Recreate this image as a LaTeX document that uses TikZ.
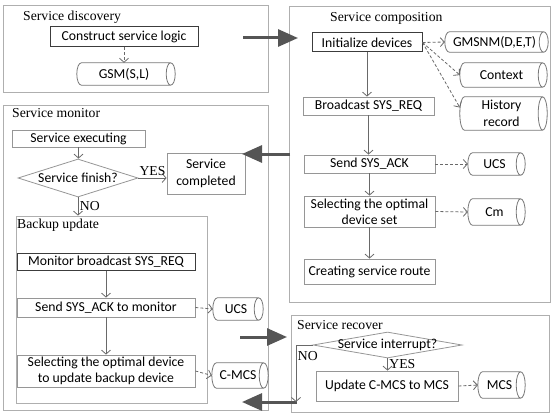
\documentclass[tikz,border=0pt]{standalone}
\usepackage{fontspec}
\setmainfont{Liberation Serif}
\newfontfamily\boxfont{Carlito}
\usetikzlibrary{shapes.geometric,arrows.meta,calc}
\definecolor{framec}{RGB}{175,175,175}
\definecolor{darkc}{RGB}{60,60,60}
\definecolor{lightc}{RGB}{150,150,150}
\definecolor{cylc}{RGB}{120,120,120}
\definecolor{linec}{RGB}{105,105,105}
\definecolor{bigc}{RGB}{85,85,85}
\tikzset{
  frame/.style={draw=framec, line width=0.8pt, inner sep=0pt},
  title/.style={anchor=west, inner sep=0pt, font=\fontsize{13.7pt}{16pt}\selectfont},
  lbl/.style={inner sep=1.5pt, font=\fontsize{13.7pt}{16pt}\selectfont},
  lbox/.style={draw=lightc, line width=0.8pt, inner sep=0pt, align=center,
    font=\boxfont\fontsize{13.7pt}{16.4pt}\selectfont},
  dbox/.style={lbox, draw=darkc, line width=1pt},
  cyl/.style={rectangle, inner sep=0pt, align=center,
    font=\boxfont\fontsize{13.7pt}{16.4pt}\selectfont},
  cylline/.style={draw=cylc, line width=0.8pt},
  dia/.style={diamond, draw=lightc, line width=0.8pt, inner sep=0pt,
    font=\boxfont\fontsize{13.7pt}{16.4pt}\selectfont},
  flow/.style={draw=linec, line width=0.8pt, -{Straight Barb[length=4pt,width=9pt]}},
  dflow/.style={flow, dash pattern=on 3pt off 2pt},
  big/.style={draw=bigc, line width=3pt, -{Triangle[length=20pt,width=17pt]}},
}
\newcommand\drawcyl[1]{%
  \draw[cylline] let \p1=(#1.north west), \p2=(#1.south east), \n1={(\y1-\y2)/2} in
    (\x2-4.5pt,\y1) -- (\x1+4.5pt,\y1)
    arc[start angle=90, end angle=270, x radius=4.5pt, y radius=\n1]
    -- (\x2-4.5pt,\y2)
    (\x2-4.5pt,\y1/2+\y2/2) ellipse[x radius=4.5pt, y radius=\n1];}
\begin{document}
\begin{tikzpicture}[x=1pt,y=-1pt]
\useasboundingbox (0,0) rectangle (553,417);
% frames
\node[frame, minimum width=265, minimum height=87] (disc) at (135.5,48.5) {};
\node[frame, minimum width=261, minimum height=296] (comp) at (419.5,154) {};
\node[frame, minimum width=265, minimum height=305] (mon) at (135.5,257.5) {};
\node[frame, minimum width=191, minimum height=187] (backup) at (111.5,309.5) {};
\node[frame, minimum width=258, minimum height=97] (recover) at (420,363.5) {};
% titles
\node[title] (tdisc) at (23,17) {Service discovery};
\node[title] (tcomp) at (330,18) {Service composition};
\node[title] (tmon) at (12,113) {Service monitor};
\node[title] (tbackup) at (17,225) {Backup update};
\node[title] (trecover) at (297,325) {Service recover};
% discovery
\node[dbox, minimum width=148, minimum height=20] (construct) at (124,37) {Construct service logic};
\node[cyl, minimum width=98, minimum height=22] (gsm) at (126,74) {GSM(S,L)\hspace*{4pt}};
% composition
\node[dbox, minimum width=110, minimum height=19] (init) at (367,42.5) {Initialize devices};
\node[cyl, minimum width=103, minimum height=20] (gmsnm) at (496.5,42) {GMSNM(D,E,T)\hspace*{4pt}};
\node[cyl, minimum width=87, minimum height=24] (context) at (503.5,75) {Context\hspace*{4pt}};
\node[cyl, minimum width=87, minimum height=33] (history) at (503.5,113.5) {History\hspace*{4pt}\\record\hspace*{4pt}};
\node[lbox, minimum width=131, minimum height=18] (bcast) at (368.5,106) {Broadcast SYS\_REQ};
\node[lbox, minimum width=131, minimum height=18] (sack) at (369.5,164) {Send SYS\_ACK};
\node[cyl, minimum width=57, minimum height=22] (ucsa) at (496.5,164) {UCS\hspace*{4pt}};
\node[lbox, minimum width=131, minimum height=31] (select) at (369.5,211.5) {Selecting the optimal\\device set};
\node[cyl, minimum width=57, minimum height=26] (cm) at (496.5,212) {Cm\hspace*{4pt}};
\node[lbox, minimum width=131, minimum height=25] (route) at (369.5,271.5) {Creating service route};
% monitor
\node[lbox, minimum width=133, minimum height=17] (exec) at (78.5,138.5) {Service executing};
\node[dia, minimum width=120, minimum height=38, aspect=3.2] (finish) at (78,178) {\makebox[0pt]{Service finish?}};
\node[lbox, minimum width=78, minimum height=41] (completed) at (206,173.5) {Service\\completed};
\node[dbox, minimum width=178, minimum height=17] (mbcast) at (106,261.5) {Monitor broadcast SYS\_REQ};
\node[lbox, minimum width=178, minimum height=19] (sackb) at (106,307.5) {Send SYS\_ACK to monitor};
\node[cyl, minimum width=50, minimum height=22] (ucsb) at (238,309) {UCS\hspace*{4pt}};
\node[lbox, minimum width=178, minimum height=32] (selectb) at (106,371) {Selecting the optimal device\\to update backup device};
\node[cyl, minimum width=56, minimum height=25] (cmcs) at (240,375.5) {C-MCS\hspace*{4pt}};
% recover
\node[dia, minimum width=149, minimum height=26, aspect=5.7] (interrupt) at (387.5,345) {\makebox[0pt]{Service interrupt?}};
\node[lbox, minimum width=142, minimum height=30] (update) at (387,386) {Update C-MCS to MCS};
\node[cyl, minimum width=47, minimum height=26] (mcs) at (501.5,385) {MCS\hspace*{4pt}};
\coordinate (noend) at (296,402);
% cylinder outlines
\drawcyl{gsm}
\drawcyl{gmsnm}
\drawcyl{context}
\drawcyl{history}
\drawcyl{ucsa}
\drawcyl{cm}
\drawcyl{ucsb}
\drawcyl{cmcs}
\drawcyl{mcs}
% big arrows
\coordinate (a1s) at (243,38); \coordinate (a1e) at (298,38);
\coordinate (a2s) at (290,154); \coordinate (a2e) at (242,154);
\coordinate (a3s) at (240,337); \coordinate (a3e) at (287,337);
\coordinate (a4s) at (297,402); \coordinate (a4e) at (242,402);
\draw[big] (a1s) -- (a1e);
\draw[big] (a2s) -- (a2e);
\draw[big] (a3s) -- (a3e);
\draw[big] (a4s) -- (a4e);
% connectors
\draw[dflow] (construct.south) -- (construct.south |- gsm.north);
\draw[dflow] (init.east) -- (gmsnm.west);
\draw[dflow] (init.east) -- (context.west);
\draw[dflow] (init.east) -- ([yshift=6pt]history.west);
\draw[flow] (init.south) -- (init.south |- bcast.north);
\draw[flow] (bcast.south) -- (bcast.south |- sack.north);
\draw[dflow] (sack.east) -- (ucsa.west);
\draw[flow] (sack.south) -- (select.north);
\draw[dflow] (select.east) -- (cm.west);
\draw[flow] (select.south) -- (route.north);
\draw[flow] (exec.south) -- (exec.south |- finish.north);
\draw[flow] (finish.east) -- node[lbl, above] {YES} (finish.east -| completed.west);
\draw[flow] (finish.south) -- node[lbl, right, pos=0.45] {NO} (finish.south |- backup.north);
\draw[flow] (mbcast.south) -- (sackb.north);
\draw[dflow] (sackb.east) -- (ucsb.west);
\draw[flow] (sackb.south) -- (selectb.north);
\draw[dflow] (selectb.east) -- (cmcs.west);
\draw[flow] (interrupt.south) -- node[lbl, right] {YES} (interrupt.south |- update.north);
\draw[flow] (interrupt.west) -| node[lbl, right, pos=0.6] {NO} (noend);
\draw[dflow] (update.east) -- (mcs.west);
\end{tikzpicture}
\end{document}
